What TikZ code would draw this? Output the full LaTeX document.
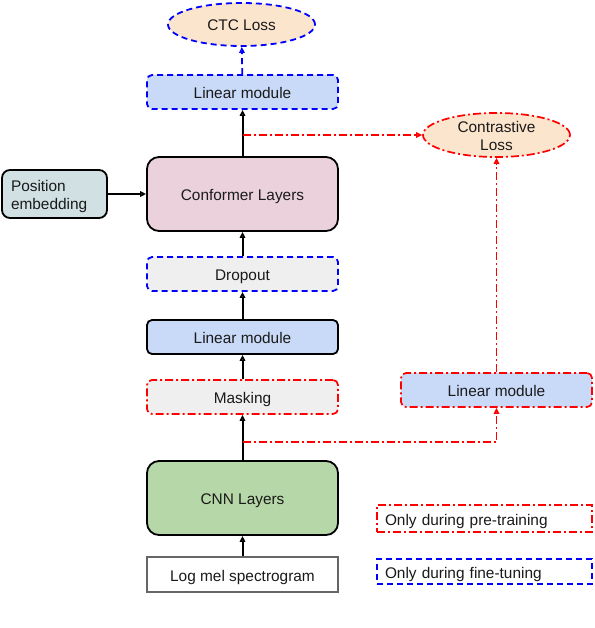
\documentclass[tikz,border=0pt]{standalone}
\usepackage{fontspec}
\setmainfont{Liberation Sans}
\usetikzlibrary{arrows.meta,shapes.geometric}
\definecolor{cblue}{HTML}{C9DAF8}
\definecolor{cpink}{HTML}{EAD1DC}
\definecolor{cgreen}{HTML}{B6D7A8}
\definecolor{cteal}{HTML}{D0E0E3}
\definecolor{cgray}{HTML}{EFEFEF}
\definecolor{corange}{HTML}{FCE5CD}
\definecolor{lblue}{HTML}{0000FF}
\definecolor{lred}{HTML}{FF0000}
\definecolor{ctext}{HTML}{1A1A1A}
\tikzset{
  x=1pt, y=-1pt,
  every node/.style={font=\fontsize{15.4}{18}\selectfont, text=ctext, inner sep=0pt},
  one/.style={text height=14pt, text depth=1pt},
  solidline/.style={draw=black, line width=1.8pt},
  bluedash/.style={draw=lblue, line width=1.8pt, dash pattern=on 6pt off 4pt},
  reddash/.style={draw=lred, line width=1.7pt, dash pattern=on 8pt off 3pt on 2pt off 3pt},
  box/.style={rectangle, one, minimum width=191pt, minimum height=34pt, rounded corners=5pt},
  bigbox/.style={rectangle, one, minimum width=191pt, minimum height=74pt, rounded corners=12pt},
  ell/.style={ellipse, minimum width=147pt, minimum height=43pt, fill=corange},
  arr/.style={-{Triangle[open,length=6pt,width=5.5pt]}},
  conn/.style={draw=black, line width=2pt, arr},
  legend/.style={rectangle, one, minimum height=26pt, text width=199pt, inner xsep=8pt, align=left},
}
\begin{document}
\begin{tikzpicture}
\useasboundingbox[fill=white] (0,0) rectangle (594,628);
\node[ell, one, bluedash] (ctc) at (241.5,24.5) {CTC Loss};
\node[box, bluedash, fill=cblue] (lin1) at (242.5,92) {Linear module};
\node[ell, reddash, minimum height=44pt, align=center] (closs) at (496.5,135) {\rule{0pt}{13pt}Contrastive\\Loss};
\node[bigbox, solidline, fill=cpink] (conf) at (242.5,194) {Conformer Layers};
\node[rectangle, rounded corners=8pt, solidline, fill=cteal, minimum height=48pt, text width=87pt, inner xsep=9pt, align=left] (pos) at (54.5,194) {\rule{0pt}{17pt}Position\\embedding};
\node[box, bluedash, fill=cgray] (drop) at (242.5,274) {Dropout};
\node[box, solidline, fill=cblue] (lin2) at (242.5,337) {Linear module};
\node[box, reddash, fill=cgray] (mask) at (242.5,397) {Masking};
\node[box, reddash, fill=cblue] (lin3) at (496.5,390) {Linear module};
\node[bigbox, solidline, fill=cgreen] (cnn) at (242.5,498) {CNN Layers};
\node[rectangle, one, draw=black!60, line width=1.2pt, fill=white, minimum width=191pt, minimum height=35pt] (logmel) at (242.5,574.5) {Log mel spectrogram};
\node[legend, reddash, minimum height=27pt] (leg1) at (484.5,518.5) {Only during pre-training};
\node[legend, bluedash, minimum height=25pt] (leg2) at (484.5,571.5) {Only during fine-tuning};
\coordinate (b1) at (242.5,442);
\coordinate (b2) at (242.5,135);
\draw[conn] (logmel) -- (cnn);
\draw[conn] (cnn) -- (mask);
\draw[conn] (mask) -- (lin2);
\draw[conn] (lin2) -- (drop);
\draw[conn] (drop) -- (conf);
\draw[conn] (pos) -- (conf);
\draw[conn] (conf) -- (lin1);
\draw[bluedash, arr] (lin1) -- (ctc);
\draw[reddash, arr] (b1) -| (lin3.south);
\draw[reddash, arr] (b2) -- (closs.west);
\draw[reddash, arr] (lin3) -- (closs);
\end{tikzpicture}
\end{document}
